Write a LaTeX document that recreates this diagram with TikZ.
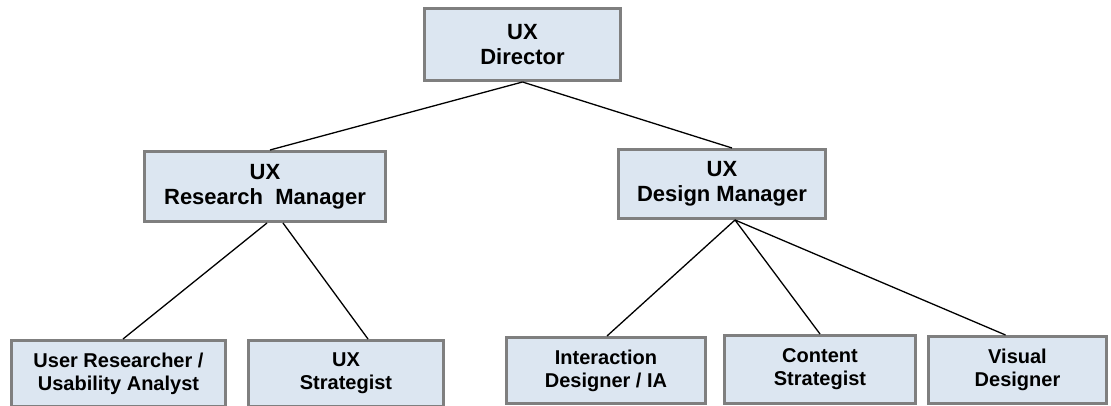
\documentclass[tikz,border=0pt]{standalone}
\usepackage{fontspec}
\setmainfont{Liberation Sans}
\definecolor{boxfill}{HTML}{DCE6F1}
\definecolor{boxedge}{HTML}{7F7F7F}
\tikzset{
  role/.style={draw=boxedge, fill=boxfill, line width=3pt, rectangle,
    inner sep=0pt, align=center, font=\bfseries},
  upper/.style={role, font=\bfseries\fontsize{22}{25}\selectfont},
  lower/.style={role, font=\bfseries\fontsize{20}{23}\selectfont},
  link/.style={line width=1.3pt, black}
}
\begin{document}
\begin{tikzpicture}[x=1pt, y=-1pt]
\useasboundingbox (0,0) rectangle (1111,406);

% management levels
\node[upper, minimum width=196pt, minimum height=72pt] (dir) at (522.5,44.5) {UX\\Director};
\node[upper, minimum width=241pt, minimum height=70pt] (rm) at (265,186.5) {UX\\Research\ \ Manager};
\node[upper, minimum width=207pt, minimum height=69pt] (dm) at (722,184) {UX\\Design Manager};

% individual roles
\node[lower, minimum width=214pt, minimum height=66pt] (ur) at (118.5,373.5) {User Researcher /\\Usability Analyst};
\node[lower, minimum width=195pt, minimum height=66pt] (us) at (346,373.5) {UX\\Strategist};
\node[lower, minimum width=199pt, minimum height=66pt] (ia) at (606,370.5) {Interaction\\Designer / IA};
\node[lower, minimum width=191pt, minimum height=68pt] (cs) at (820,369.5) {Content\\Strategist};
\node[lower, minimum width=178pt, minimum height=67pt] (vd) at (1017.5,370) {Visual\\Designer};

% reporting lines
\draw[link] (dir.south) -- ([xshift=5pt]rm.north);
\draw[link] (dir.south) -- ([xshift=10pt]dm.north);
\draw[link] ([xshift=2pt]rm.south) -- ([xshift=4.5pt]ur.north);
\draw[link] ([xshift=18pt]rm.south) -- ([xshift=22pt]us.north);
\draw[link] ([xshift=13pt]dm.south) -- ([xshift=1pt]ia.north);
\draw[link] ([xshift=13pt]dm.south) -- (cs.north);
\draw[link] ([xshift=13pt]dm.south) -- ([xshift=-12pt]vd.north);
\end{tikzpicture}
\end{document}
